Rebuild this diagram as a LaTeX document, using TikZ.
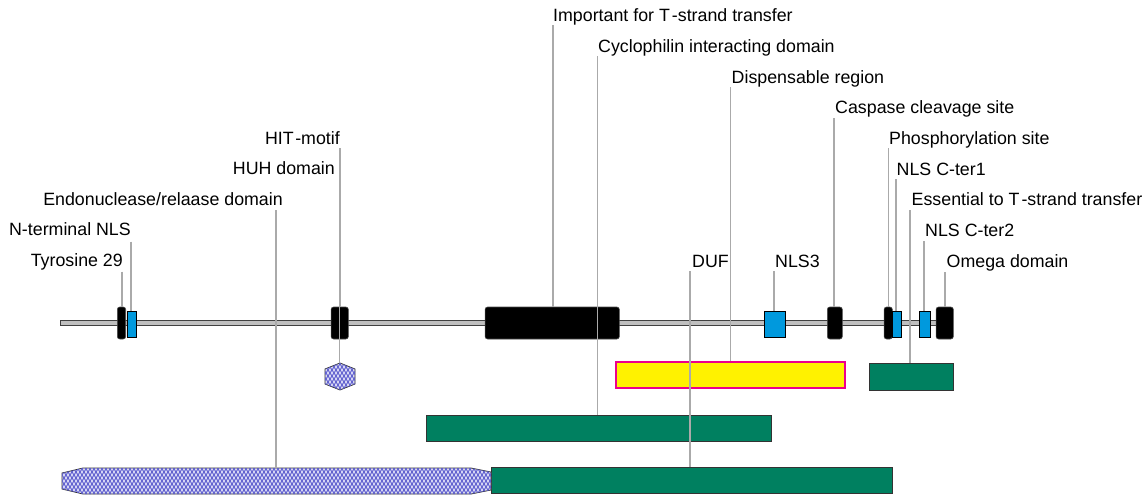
\documentclass[tikz,border=0pt]{standalone}
\usepackage{fontspec}
\setmainfont{Liberation Sans}
\usetikzlibrary{patterns}
\definecolor{featblue}{RGB}{0,153,221}
\definecolor{featgreen}{RGB}{0,128,96}
\definecolor{conngray}{RGB}{170,170,170}
\definecolor{hatchblue}{RGB}{90,90,205}
\definecolor{hatchbg}{RGB}{215,215,245}
\pgfdeclarepatternformonly{diamondhatch}{\pgfqpoint{-1pt}{-1pt}}{\pgfqpoint{5pt}{7pt}}{\pgfqpoint{4pt}{6pt}}{%
  \pgfsetlinewidth{0.8pt}%
  \pgfpathmoveto{\pgfqpoint{0pt}{0pt}}\pgfpathlineto{\pgfqpoint{4pt}{6pt}}%
  \pgfpathmoveto{\pgfqpoint{0pt}{6pt}}\pgfpathlineto{\pgfqpoint{4pt}{0pt}}%
  \pgfusepath{stroke}}
\tikzset{
  lbl/.style={inner sep=0pt, font=\fontsize{17.8}{20}\selectfont},
  lblr/.style={lbl, anchor=base west},
  lbll/.style={lbl, anchor=base east},
  blk/.style={draw=black!70, fill=black, rounded corners=2.5pt, inner sep=0pt, minimum height=32, line width=0.6pt},
  bluebox/.style={draw=black, fill=featblue, inner sep=0pt, minimum height=26, line width=0.8pt},
  greenbar/.style={draw=black!80, fill=featgreen, inner sep=0pt, line width=0.8pt},
  yellowbar/.style={draw=magenta, fill=yellow, inner sep=0pt, line width=1.6pt},
  conn/.style={draw=conngray, line width=1.6pt},
  hatch/.style={draw=black!80, line width=0.8pt, fill=hatchbg, postaction={pattern=diamondhatch, pattern color=hatchblue}},
}
\begin{document}
\begin{tikzpicture}[x=1pt,y=-1pt]
\useasboundingbox (0,0) rectangle (1147,496);
\clip (0,0) rectangle (1147,496);

% backbone
\node[draw=black!75, fill=black!25, line width=0.8pt, inner sep=0pt, minimum width=890, minimum height=5] (bb) at (505,323.2) {};

% bars
\node[yellowbar, minimum width=229, minimum height=26] (yel) at (730.5,375) {};
\node[greenbar, minimum width=84, minimum height=27] (gR) at (911.3,376.5) {};
\node[greenbar, minimum width=345, minimum height=26] (gM) at (598.5,428) {};
\node[greenbar, minimum width=401, minimum height=26] (gB) at (691.5,480.5) {};

% hexagon (HUH)
\path[hatch] (340,363) -- (355,369) -- (355,384) -- (340,390) -- (325,384) -- (325,369) -- cycle;
\coordinate (hex) at (340,363);
% endonuclease region
\path[hatch] (62,473) -- (83,468) -- (471,468) -- (491,472) -- (491,490) -- (471,494) -- (83,494) -- (62,489) -- cycle;
\coordinate (endo) at (276,468);

% features on backbone
\node[blk, minimum width=8.4] (fTyr) at (121.5,323) {};
\node[bluebox, minimum width=9] (fN) at (132.2,324) {};
\node[blk, minimum width=17.3] (fHIT) at (339.7,323) {};
\node[blk, minimum width=134.3] (fBig) at (552.2,323) {};
\node[bluebox, minimum width=21.7] (fNLS3) at (774.8,324) {};
\node[blk, minimum width=15] (fCas) at (834.8,323) {};
\node[blk, minimum width=8.3] (fPho) at (888.2,323) {};
\node[bluebox, minimum width=8.7] (fC1) at (896.7,324) {};
\node[bluebox, minimum width=11.4] (fC2) at (925,324) {};
\node[blk, minimum width=17.3] (fOme) at (944.7,323) {};

% labels
\node[lbll] (lHIT) at (340,144) {HIT\kern1.5pt-motif};
\node[lbll] (lHUH) at (335,174) {HUH domain};
\node[lbll] (lEndo) at (283,205) {Endonuclease/relaase domain};
\node[lbll] (lNter) at (131,235) {N-terminal NLS};
\node[lbll] (lTyr) at (123,266) {Tyrosine 29};
\node[lblr] (lImp) at (553,21) {Important for T\kern2pt-strand transfer};
\node[lblr] (lCyc) at (598,52) {Cyclophilin interacting domain};
\node[lblr] (lDis) at (731.5,83) {Dispensable region};
\node[lblr] (lCas) at (835,113) {Caspase cleavage site};
\node[lblr] (lPho) at (889,144) {Phosphorylation site};
\node[lblr] (lC1) at (896.5,175) {NLS C-ter1};
\node[lblr] (lEss) at (911.5,205) {Essential to T\kern2pt-strand transfer};
\node[lblr] (lC2) at (925,236) {NLS C-ter2};
\node[lblr] (lOme) at (946.5,267) {Omega domain};
\node[lblr] (lDUF) at (692,267) {DUF};
\node[lblr] (lNLS3) at (775,267) {NLS3};

% connector tops
\coordinate (tTyr) at (121.7,271.7);
\coordinate (tNter) at (130.7,241.7);
\coordinate (tEndo) at (276,210);
\coordinate (tHUH) at (339.5,180);
\coordinate (tHIT) at (340,148);
\coordinate (tImp) at (553,25);
\coordinate (tCyc) at (597.5,56);
\coordinate (tDis) at (730.5,87);
\coordinate (tCas) at (834,118);
\coordinate (tPho) at (888.3,148);
\coordinate (tC1) at (895.7,179);
\coordinate (tEss) at (910,210);
\coordinate (tC2) at (923.7,241);
\coordinate (tOme) at (945,272);
\coordinate (tDUF) at (690,271);
\coordinate (tNLS3) at (774,271);

% connectors
\draw[conn] (tTyr) -- (tTyr |- fTyr.north);
\draw[conn] (tNter) -- (tNter |- fN.north);
\draw[conn] (tEndo) -- (endo);
\draw[conn] (tHUH) -- (tHUH |- hex);
\draw[conn] (tHIT) -- (tHIT |- fHIT.north);
\draw[conn] (tImp) -- (tImp |- fBig.north);
\draw[conn] (tCyc) -- (tCyc |- gM.north);
\draw[conn] (tDis) -- (tDis |- yel.north);
\draw[conn] (tCas) -- (tCas |- fCas.north);
\draw[conn] (tPho) -- (tPho |- fPho.north);
\draw[conn] (tC1) -- (tC1 |- fC1.north);
\draw[conn] (tEss) -- (tEss |- gR.north);
\draw[conn] (tC2) -- (tC2 |- fC2.north);
\draw[conn] (tOme) -- (tOme |- fOme.north);
\draw[conn] (tDUF) -- (tDUF |- gB.north);
\draw[conn] (tNLS3) -- (tNLS3 |- fNLS3.north);
\end{tikzpicture}
\end{document}
